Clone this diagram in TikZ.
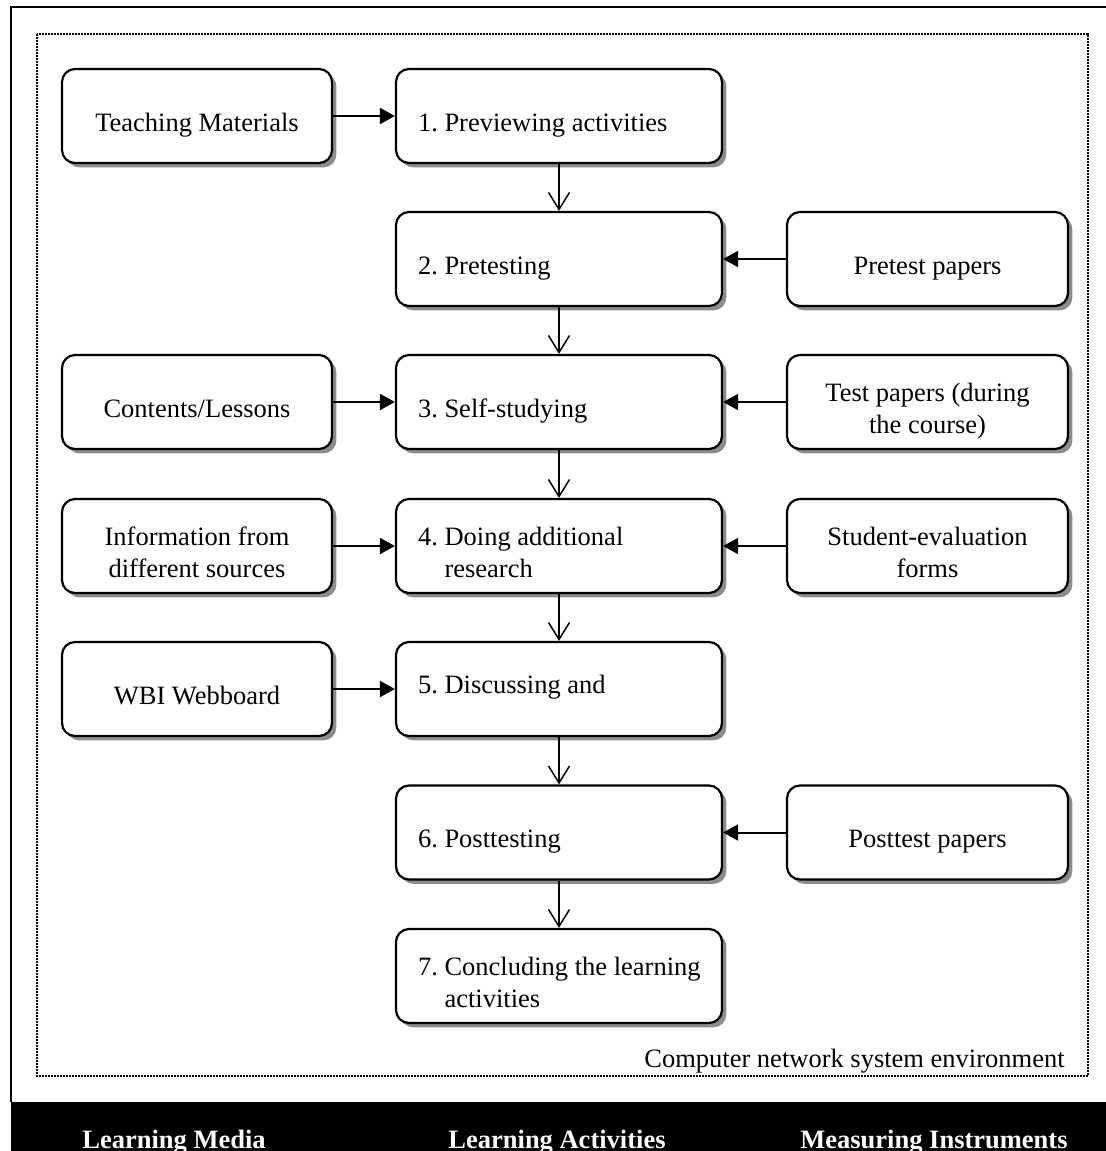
\documentclass[tikz,border=0pt]{standalone}
\usepackage{fontspec}
\setmainfont{Liberation Serif}
\usetikzlibrary{shadows,arrows.meta}
\begin{document}
\begin{tikzpicture}[x=0.5pt,y=-0.5pt,
  font=\fontsize{13.25pt}{16pt}\selectfont\frenchspacing,
  box/.style={draw=black, line width=1.1pt, rounded corners=6.5pt, fill=white,
    minimum height=47pt, inner ysep=0pt,
    execute at begin node={\rule{0pt}{20pt}},
    execute at end node={\strut},
    drop shadow={shadow xshift=2.2pt, shadow yshift=-2.2pt, fill=black!45, opacity=1}},
  lbox/.style={box, minimum width=135pt, text width=125pt, inner xsep=5pt, align=flush center},
  cbox/.style={box, minimum width=163pt, text width=141pt, inner xsep=11pt, align=flush left},
  rbox/.style={box, minimum width=140.5pt, text width=130.5pt, inner xsep=5pt, align=flush center},
  harrow/.style={line width=1pt, -{Triangle[length=7.5pt,width=8pt]}},
  varrow/.style={line width=0.75pt, -{Straight Barb[length=8.5pt,width=10.5pt,line width=0.75pt]}},
  barlabel/.style={text=white, font=\fontsize{13.25pt}{16pt}\selectfont\bfseries, anchor=base}
]
\useasboundingbox (0,0) rectangle (1106,1151);
% outer frame
\draw[line width=1pt] (11,1102) -- (11,7) -- (1110,7);
% dotted environment frame
\draw[line width=0.8pt, dash pattern=on 0.8pt off 0.7pt] (37,34) rectangle (1088,1076);
\node[anchor=base east, inner sep=0pt] (env) at (1065,1067) {Computer network system environment};

% centre column
\node[cbox] (c1) at (559,116) {1. Previewing activities};
\node[cbox] (c2) at (559,259) {2. Pretesting};
\node[cbox] (c3) at (559,402) {3. Self-studying};
\node[cbox] (c4) at (559,546) {4. Doing additional\\\phantom{4. }research};
\node[cbox, execute at begin node={}, execute at end node={}, text height=4pt, text depth=0pt] (c5) at (559,689) {5. Discussing and};
\node[cbox] (c6) at (559,832.5) {6. Posttesting};
\node[cbox] (c7) at (559,976) {\mbox{7. Concluding the learning}\\\phantom{7. }activities};

% left column
\node[lbox] (l1) at (197,116) {Teaching Materials};
\node[lbox] (l3) at (197,402) {Contents/Lessons};
\node[lbox] (l4) at (197,546) {Information from\\different sources};
\node[lbox] (l5) at (197,689) {WBI Webboard};

% right column
\node[rbox] (r2) at (927.5,259) {Pretest papers};
\node[rbox] (r3) at (927.5,402) {Test papers (during\\the course)};
\node[rbox] (r4) at (927.5,546) {Student-evaluation\\forms};
\node[rbox] (r6) at (927.5,832.5) {Posttest papers};

% vertical flow
\draw[varrow] (c1.south) -- (c2.north);
\draw[varrow] (c2.south) -- (c3.north);
\draw[varrow] (c3.south) -- (c4.north);
\draw[varrow] (c4.south) -- (c5.north);
\draw[varrow] (c5.south) -- (c6.north);
\draw[varrow] (c6.south) -- (c7.north);

% horizontal inputs
\draw[harrow] (l1.east) -- (c1.west);
\draw[harrow] (l3.east) -- (c3.west);
\draw[harrow] (l4.east) -- (c4.west);
\draw[harrow] (l5.east) -- (c5.west);
\draw[harrow] (r2.west) -- (c2.east);
\draw[harrow] (r3.west) -- (c3.east);
\draw[harrow] (r4.west) -- (c4.east);
\draw[harrow] (r6.west) -- (c6.east);

% black bar
\fill[black] (11,1102) rectangle (1106,1151);
\node[barlabel] (m) at (174,1148) {Learning Media};
\node[barlabel] (a) at (557,1148) {Learning Activities};
\node[barlabel] (i) at (934,1148) {Measuring Instruments};
\end{tikzpicture}
\end{document}
